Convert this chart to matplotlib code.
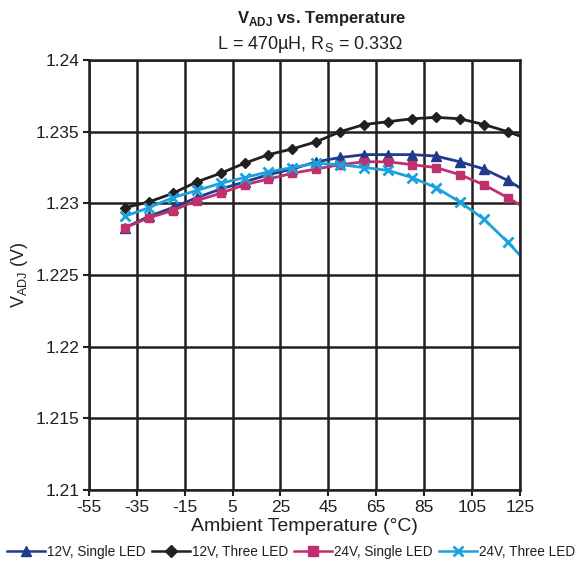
import numpy as np
import matplotlib.pyplot as plt

plt.rcParams['font.family'] = ['Liberation Sans', 'DejaVu Sans']
plt.rcParams['axes.unicode_minus'] = False

# ambient temperature (deg C) at each plotted point
temp = [-40, -30, -20, -10, 0, 10, 20, 30, 40, 50, 60, 70, 80, 90, 100, 110, 120, 125]

# V_ADJ (V) for each configuration
v_12_single = [1.2283, 1.2291, 1.2297, 1.2304, 1.2310, 1.2315, 1.2320, 1.2324, 1.2329,
               1.2332, 1.2334, 1.2334, 1.2334, 1.2333, 1.2329, 1.2324, 1.2316, 1.2311]
v_12_three = [1.2297, 1.2301, 1.2307, 1.2315, 1.2321, 1.2328, 1.2334, 1.2338, 1.2343,
              1.2350, 1.2355, 1.2357, 1.2359, 1.2360, 1.2359, 1.2355, 1.2350, 1.2347]
v_24_single = [1.2283, 1.2290, 1.2295, 1.2302, 1.2307, 1.2313, 1.2317, 1.2321, 1.2324,
               1.2327, 1.2329, 1.2329, 1.2327, 1.2325, 1.2320, 1.2313, 1.2304, 1.2299]
v_24_three = [1.2291, 1.2297, 1.2304, 1.2309, 1.2314, 1.2318, 1.2322, 1.2325, 1.2328,
              1.2327, 1.2325, 1.2323, 1.2318, 1.2311, 1.2301, 1.2289, 1.2273, 1.2264]

labels = ["12V, Single LED", "12V, Three LED", "24V, Single LED", "24V, Three LED"]
x_ticks = [-55, -35, -15, 5, 25, 45, 65, 85, 105, 125]
y_ticks = [1.21, 1.215, 1.22, 1.225, 1.23, 1.235, 1.24]

series = [
    (v_12_single, "#213b8c", "^", 6.5),
    (v_12_three, "#231f20", "D", 5),
    (v_24_single, "#c02f6e", "s", 6),
    (v_24_three, "#1ba1db", "x", 6.5),
]

fig = plt.figure(figsize=(5.82, 5.66), dpi=100)
ax = fig.add_axes([0.153, 0.134, 0.74, 0.76])

t = np.array(temp)
for (vals, col, mk, ms), lab in zip(series, labels):
    v = np.array(vals)
    ax.plot(t, v, color=col, lw=2, label=lab)
    # markers on the 10-degree points, not the 125 endpoint
    ax.plot(t[:-1], v[:-1], color=col, lw=0, marker=mk, ms=ms, mew=2 if mk == "x" else 1)

# legend handles with line + marker
handles = [plt.Line2D([], [], color=c, lw=1.8, marker=m, ms=s + 1, mew=2 if m == "x" else 1)
           for (_, c, m, s) in series]

ax.set_xlim(-55, 125)
ax.set_ylim(1.21, 1.24)
ax.set_xticks(x_ticks)
ax.set_yticks(y_ticks)
ax.set_yticklabels(["%g" % y for y in y_ticks])
ax.tick_params(length=4, width=1.5, color="#231f20", labelsize=12.5, pad=3,
               labelcolor="#231f20")
ax.grid(True, color="#231f20", lw=1.8)
for s in ax.spines.values():
    s.set_color("#231f20")
    s.set_linewidth(1.8)

ax.set_xlabel("Ambient Temperature (°C)", fontsize=14, labelpad=2, color="#231f20")
ax.set_ylabel(r"V$_{\mathregular{ADJ}}$ (V)", fontsize=13, labelpad=4, color="#231f20")

fig.text(0.552, 0.968, r"V$_{\mathregular{ADJ}}$ vs. Temperature", ha="center", va="center",
         fontsize=12, fontweight="bold", color="#231f20")
fig.text(0.533, 0.922, r"L = 470µH, R$_{\mathregular{S}}$ = 0.33Ω", ha="center", va="center",
         fontsize=13, color="#231f20")

fig.legend(handles, labels, loc="center", bbox_to_anchor=(0.5, 0.025), ncol=4, frameon=False,
           fontsize=9.8, handlelength=2.8, handletextpad=0.15, columnspacing=0.45,
           borderaxespad=0, labelcolor="#231f20")

fig.savefig("out.png", dpi=100)
